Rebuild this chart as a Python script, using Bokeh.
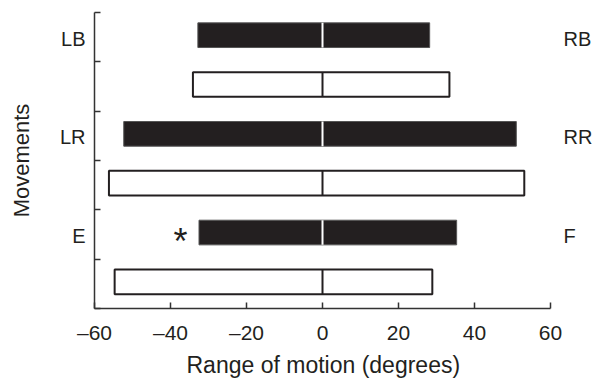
from bokeh.plotting import figure
from bokeh.models import Range1d, FixedTicker, ColumnDataSource, Title
from bokeh.core.properties import value
from bokeh.embed import file_html
from bokeh.resources import INLINE

# Range of motion per movement pair, listed from top row to bottom row
rows = ["LB/RB", "LB/RB ctrl", "LR/RR", "LR/RR ctrl", "E/F", "E/F ctrl"]
left_deg = [-32.8, -34.1, -52.3, -56.2, -32.5, -54.7]
right_deg = [28.2, 33.4, 51.0, 53.1, 35.3, 28.9]
filled = [True, False, True, False, True, False]

left_labels = ["LB", "LR", "E"]
right_labels = ["RB", "RR", "F"]
x_ticks = [-60, -40, -20, 0, 20, 40, 60]
x_title = "Range of motion (degrees)"

INK = "#231f20"
FONT = "Liberation Sans"

n = len(rows)
band_mid = [n - i - 0.5 for i in range(n)]
# bars sit a touch above the middle of their band
centres = [m + 0.04 for m in band_mid]

# the frame runs past +60 so the right-hand names fit inside it;
# the axis itself is bounded to -60..60
X_LO, X_HI, X_PAD = -60, 60, 11.05
p = figure(width=592, height=381, output_backend="svg", toolbar_location=None,
           x_range=Range1d(X_LO, X_HI + X_PAD), y_range=Range1d(0, n),
           min_border_left=94, min_border_right=0, min_border_top=12, min_border_bottom=67)
p.outline_line_color = None
p.grid.visible = False
p.background_fill_color = "white"
p.border_fill_color = "white"

bar_h = 0.5
solid = ColumnDataSource(dict(
    y=[c for c, f in zip(centres, filled) if f],
    left=[l for l, f in zip(left_deg, filled) if f],
    right=[r for r, f in zip(right_deg, filled) if f]))
hollow = ColumnDataSource(dict(
    y=[c for c, f in zip(centres, filled) if not f],
    left=[l for l, f in zip(left_deg, filled) if not f],
    right=[r for r, f in zip(right_deg, filled) if not f]))

p.hbar(y="y", left="left", right="right", height=bar_h, source=solid,
       fill_color=INK, line_color="#555555", line_width=1)
p.hbar(y="y", left="left", right="right", height=bar_h, source=hollow,
       fill_color="white", line_color=INK, line_width=2)

# zero divider inside each bar
p.segment(x0=[0] * len(solid.data["y"]), x1=[0] * len(solid.data["y"]),
          y0=[y - bar_h / 2 for y in solid.data["y"]], y1=[y + bar_h / 2 for y in solid.data["y"]],
          line_color="white", line_width=2)
p.segment(x0=[0] * len(hollow.data["y"]), x1=[0] * len(hollow.data["y"]),
          y0=[y - bar_h / 2 for y in hollow.data["y"]], y1=[y + bar_h / 2 for y in hollow.data["y"]],
          line_color=INK, line_width=2)

# significance marker beside the extension bar
e_y = [c for c, f in zip(centres, filled) if f][2]
p.text(x=[-37.4], y=[e_y], text=["*"], text_font=value(FONT), text_font_size="36px",
       text_align="center", text_baseline="middle", text_color=INK, y_offset=9)

# x axis
xa = p.xaxis[0]
xa.bounds = (X_LO, X_HI)
xa.ticker = FixedTicker(ticks=x_ticks)
xa.major_label_overrides = {t: (f"\u2013{abs(t)}" if t < 0 else str(t)) for t in x_ticks}
xa.major_tick_in = 6
xa.major_tick_out = 0
xa.minor_tick_line_color = None
xa.axis_line_color = "#333333"
xa.major_tick_line_color = "#333333"
xa.axis_line_width = 1.5
xa.major_tick_line_width = 1.5
xa.major_label_text_font = FONT
xa.major_label_text_font_size = "21px"
xa.major_label_text_color = INK
xa.major_label_standoff = 12

# axis title centred under the -60..60 span rather than the whole frame
p.add_layout(Title(text=x_title, align="left", offset=92, standoff=7,
                   text_font=FONT, text_font_size="23px", text_font_style="normal",
                   text_color=INK), "below")

# y axis: movement labels in the filled rows, short ticks on row boundaries
label_y = [m - 0.03 for m, f in zip(band_mid, filled) if f]
ya = p.yaxis[0]
ya.ticker = FixedTicker(ticks=label_y, minor_ticks=list(range(n + 1)))
ya.major_label_overrides = {c: t for c, t in zip(label_y, left_labels)}
ya.major_tick_in = 0
ya.major_tick_out = 0
ya.minor_tick_in = 6
ya.minor_tick_out = 0
ya.minor_tick_line_color = "#333333"
ya.minor_tick_line_width = 1.5
ya.axis_line_color = "#333333"
ya.axis_line_width = 1.5
ya.major_label_text_font = FONT
ya.major_label_text_font_size = "20px"
ya.major_label_text_color = INK
ya.major_label_standoff = 9
ya.axis_label = "Movements"
ya.axis_label_text_font = FONT
ya.axis_label_text_font_size = "22px"
ya.axis_label_text_font_style = "normal"
ya.axis_label_text_color = INK
ya.axis_label_standoff = 23

# opposite-direction movement names beyond the +60 end of the axis
p.text(x=[X_HI] * len(right_labels), y=label_y, text=right_labels, x_offset=13,
       text_align="left", text_baseline="middle", text_font=value(FONT),
       text_font_size="20px", text_color=INK)

open("out.html", "w").write(file_html(p, INLINE))
